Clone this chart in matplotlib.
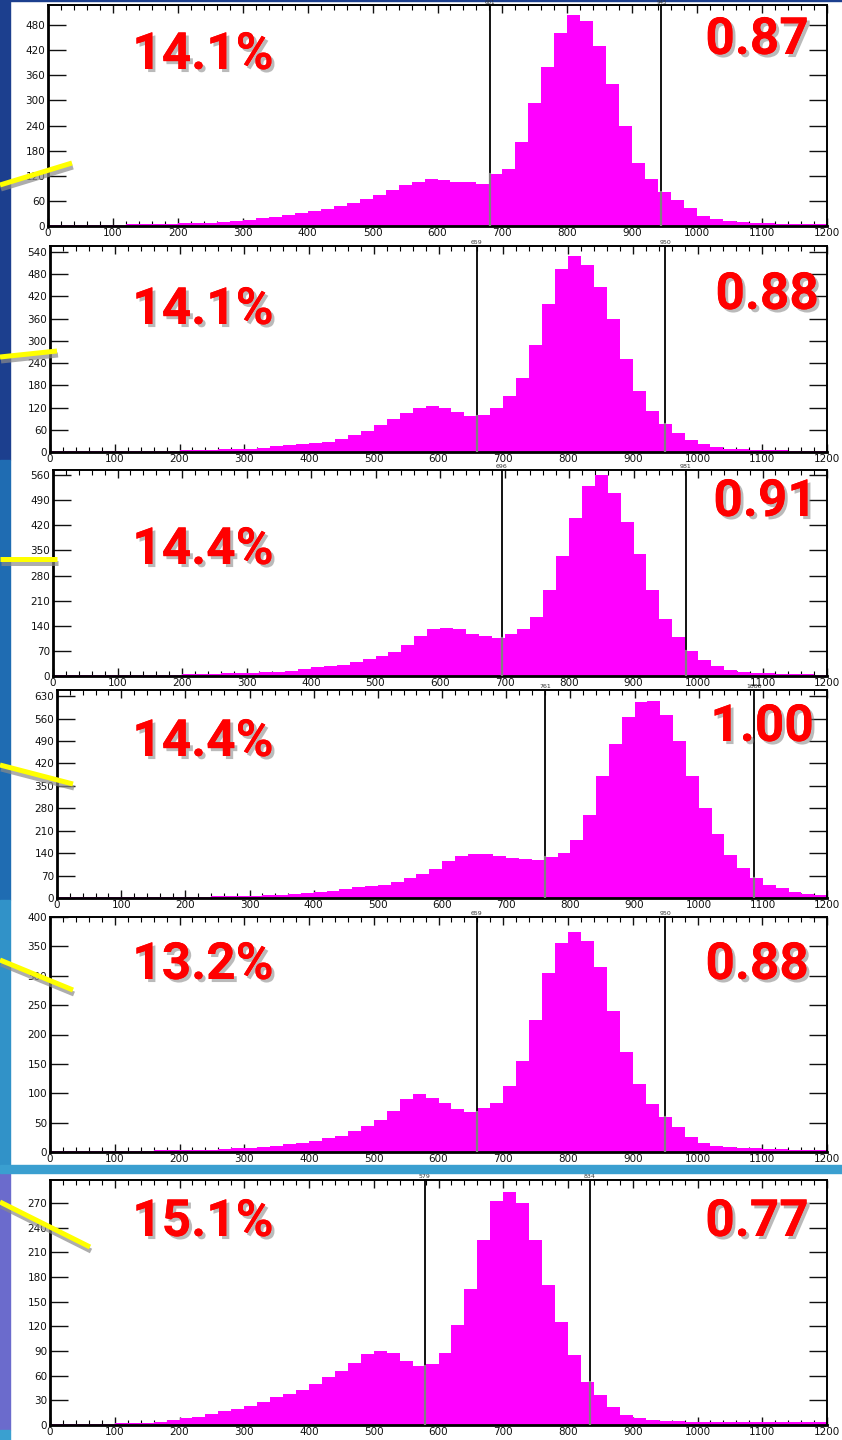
import numpy as np
import matplotlib
matplotlib.use("Agg")
import matplotlib.pyplot as plt
from matplotlib import patheffects as pe
from matplotlib.patches import Rectangle
from matplotlib.lines import Line2D
from matplotlib.ticker import MultipleLocator

W, H = 842, 1440

# ---- data: 20-channel bins from 0 to 1200 ----
bin_edges = list(range(0, 1201, 20))

counts_1 = [3, 2, 2, 3, 3, 3, 4, 4, 5, 5,
            6, 7, 8, 10, 12, 15, 18, 22, 26, 30,
            35, 41, 48, 56, 65, 75, 86, 98, 106, 112,
            110, 106, 104, 100, 125, 135, 200, 295, 380, 460,
            505, 490, 430, 340, 240, 150, 112, 82, 62, 42,
            25, 16, 12, 9, 7, 6, 5, 5, 4, 4]
counts_2 = [2, 2, 2, 2, 2, 3, 3, 3, 4, 4,
            5, 5, 6, 7, 8, 9, 12, 15, 18, 21,
            25, 28, 35, 45, 58, 72, 90, 105, 120, 124,
            118, 108, 98, 100, 120, 150, 200, 290, 400, 495,
            530, 505, 445, 360, 250, 165, 110, 75, 52, 32,
            22, 14, 9, 7, 6, 5, 5, 4, 4, 4]
counts_3 = [2, 2, 2, 2, 2, 3, 3, 3, 4, 4,
            5, 5, 6, 7, 8, 8, 10, 12, 15, 20,
            26, 29, 32, 40, 48, 56, 68, 85, 112, 130,
            135, 132, 118, 112, 105, 118, 132, 165, 240, 335,
            440, 530, 560, 510, 430, 340, 240, 160, 110, 70,
            45, 28, 18, 12, 9, 7, 6, 5, 5, 4]
counts_4 = [2, 2, 2, 2, 2, 3, 3, 3, 3, 4,
            4, 4, 5, 5, 6, 7, 8, 10, 12, 15,
            19, 23, 27, 33, 38, 42, 50, 62, 76, 92,
            115, 130, 136, 138, 130, 126, 122, 120, 128, 140,
            180, 260, 380, 480, 565, 610, 615, 570, 490, 380,
            280, 200, 135, 95, 62, 42, 30, 20, 13, 10]
counts_5 = [1, 1, 1, 1, 2, 2, 2, 2, 3, 3,
            3, 4, 4, 5, 6, 7, 9, 11, 13, 16,
            19, 23, 28, 35, 44, 55, 70, 90, 98, 92,
            84, 74, 68, 75, 84, 112, 155, 225, 305, 355,
            375, 360, 315, 240, 170, 115, 82, 60, 42, 26,
            16, 11, 8, 7, 6, 5, 5, 4, 4, 4]
counts_6 = [1, 1, 1, 1, 1, 2, 2, 3, 4, 6,
            8, 10, 13, 17, 19, 23, 28, 34, 38, 43,
            50, 58, 66, 76, 86, 90, 88, 78, 72, 74,
            88, 122, 165, 225, 272, 284, 270, 225, 170, 125,
            85, 52, 36, 22, 12, 8, 6, 5, 5, 4,
            4, 4, 4, 4, 4, 4, 4, 4, 4, 4]

cut_low = [681, 659, 696, 761, 659, 579]
cut_high = [945, 950, 981, 1086, 950, 834]
resolution_labels = ["14.1%", "14.1%", "14.4%", "14.4%", "13.2%", "15.1%"]
ratio_labels = ["0.87", "0.88", "0.91", "1.00", "0.88", "0.77"]
y_max = [528, 556, 574, 649, 400, 298]
y_step = [60, 60, 70, 70, 50, 30]
x_ticks = list(range(0, 1201, 100))

all_counts = [counts_1, counts_2, counts_3, counts_4, counts_5, counts_6]

# ---- layout (pixels: left, right, top, bottom) ----
boxes = [(48, 827, 5, 226), (50, 827, 246, 452), (53, 827, 470, 676),
         (57, 827, 690, 898), (50, 827, 917, 1152), (50, 827, 1180, 1425)]
pct_pos = [(203, 55), (203, 310), (203, 550), (203, 742), (203, 965), (203, 1222)]
ratio_pos = [(757, 40), (767, 295), (765, 502), (762, 727), (757, 965), (757, 1222)]
yellow = [((0, 185), (72, 163)), ((0, 357), (57, 351)), ((0, 559), (57, 559)),
          ((0, 765), (73, 784)), ((0, 960), (73, 990)), ((0, 1202), (90, 1247))]

fig = plt.figure(figsize=(W / 100, H / 100), dpi=100, facecolor="white")


def fx(x):
    return x / W


def fy(y):
    return 1 - y / H


# background strips
strips = [(0, 460, "#1c3f8e"), (460, 900, "#1f6cb2"), (900, 1165, "#3192c8"),
          (1173, 1430, "#6b6bcc"), (1430, 1440, "#3aa0d0")]
for y0, y1, c in strips:
    fig.patches.append(Rectangle((0, fy(y1)), fx(10), (y1 - y0) / H,
                                 transform=fig.transFigure, color=c, zorder=0))
fig.patches.append(Rectangle((0, fy(1173)), 1, 8 / H, transform=fig.transFigure,
                             color="#3a9fd0", zorder=0))
fig.patches.append(Rectangle((0, fy(1)), 1, 1 / H, transform=fig.transFigure,
                             color="#1c3f8e", zorder=0))

for i, (l, r, t, b) in enumerate(boxes):
    ax = fig.add_axes([fx(l), fy(b), (r - l) / W, (b - t) / H])
    ax.set_facecolor("white")
    counts = np.array(all_counts[i], dtype=float)
    edges = np.array(bin_edges, dtype=float)
    ax.stairs(counts, edges, fill=True, color="#ff00ff", zorder=2)
    ax.set_xlim(0, 1200)
    ax.set_ylim(0, y_max[i])
    for cut in (cut_low[i], cut_high[i]):
        ax.axvline(cut, color="black", lw=1.3, zorder=3)
        k = min(np.searchsorted(edges, cut, side="right") - 1, len(counts) - 1)
        ax.plot([cut, cut], [0, counts[k]], color="#808080", lw=1.6, zorder=4)
        if i == 0:
            fig.text(fx(l + cut / 1200 * (r - l)), fy(4.5), str(cut), ha="center",
                     va="bottom", fontsize=4, color="#333333")
        else:
            ax.text(cut, y_max[i] * 1.004, str(cut), ha="center", va="bottom",
                    fontsize=4.5, color="#333333", clip_on=False)
    ax.set_xticks(x_ticks)
    ax.xaxis.set_minor_locator(MultipleLocator(20))
    ax.yaxis.set_major_locator(MultipleLocator(y_step[i]))
    ax.tick_params(axis="x", which="major", direction="in", top=True, bottom=True,
                   length=6, width=1, labelsize=7.5, pad=1.5, colors="#111111")
    ax.tick_params(axis="x", which="minor", direction="in", top=True, bottom=True,
                   length=3.5, width=0.8)
    ax.tick_params(axis="y", which="major", direction="in", left=True, right=True,
                   length=13, width=1, labelsize=7.5, pad=2, colors="#111111")
    for s in ax.spines.values():
        s.set_linewidth(1.4)
        s.set_color("black")
    ax.spines["left"].set_linewidth(2)
    ax.spines["bottom"].set_linewidth(2)

    shadow = [pe.withSimplePatchShadow(offset=(2.2, -2.2), shadow_rgbFace="#777777",
                                       alpha=0.5), pe.Normal()]
    px, py = pct_pos[i]
    fig.text(fx(px), fy(py), resolution_labels[i], ha="center", va="center",
             fontsize=37, fontweight="bold", family="Roboto", color="#ff0000",
             path_effects=shadow, zorder=10)
    rx, ry = ratio_pos[i]
    fig.text(fx(rx), fy(ry), ratio_labels[i], ha="center", va="center",
             fontsize=37, fontweight="bold", family="Roboto", color="#ff0000",
             path_effects=shadow, zorder=10)

for (x0, y0), (x1, y1) in yellow:
    fig.add_artist(Line2D([fx(x0 + 1), fx(x1 + 1)], [fy(y0 + 4), fy(y1 + 4)],
                          transform=fig.transFigure, color="#8a8a8a", lw=3.6,
                          alpha=0.7, solid_capstyle="butt", zorder=19))
    fig.add_artist(Line2D([fx(x0), fx(x1)], [fy(y0), fy(y1)],
                          transform=fig.transFigure, color="#ffff00", lw=3.6,
                          solid_capstyle="butt", zorder=20))

fig.savefig("out.png", dpi=100, facecolor="white")
